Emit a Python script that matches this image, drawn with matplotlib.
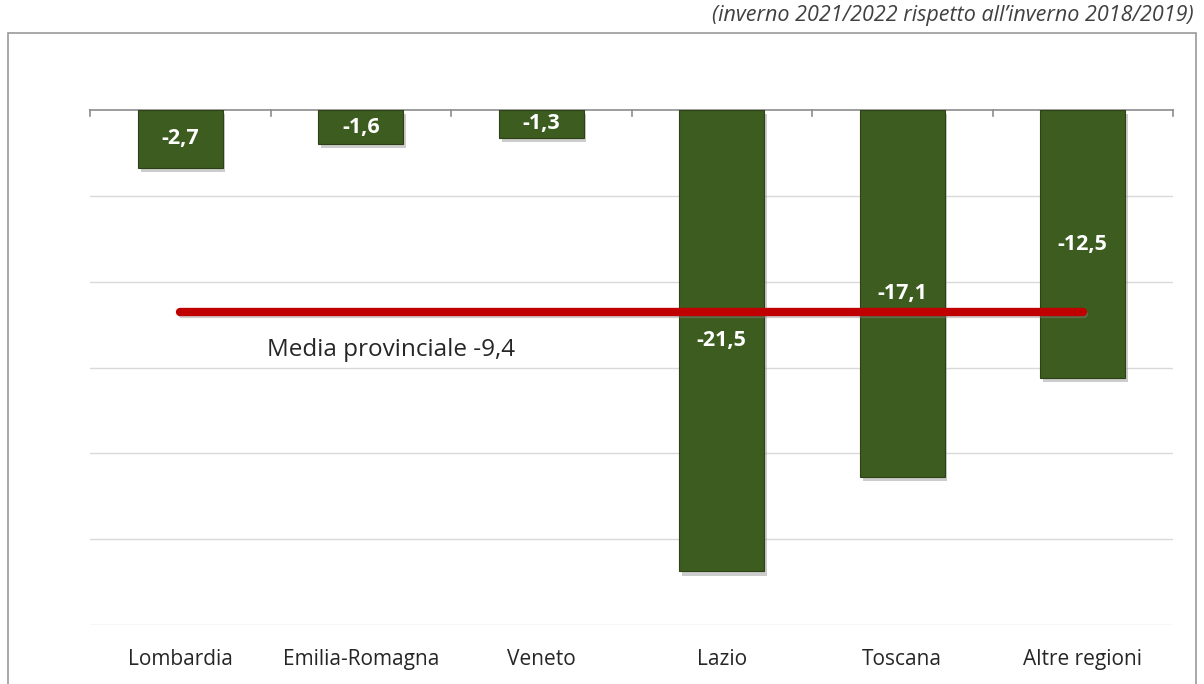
import matplotlib

matplotlib.use("Agg")
import matplotlib.patheffects as pe
import matplotlib.pyplot as plt
import numpy as np
from matplotlib.patches import Rectangle

regions = ["Lombardia", "Emilia-Romagna", "Veneto", "Lazio", "Toscana", "Altre regioni"]
changes = [-2.7, -1.6, -1.3, -21.5, -17.1, -12.5]
provincial_mean = -9.4
grid_levels = [-4, -8, -12, -16, -20, -24]
subtitle = "(inverno 2021/2022 rispetto all\u2019inverno 2018/2019)"

plt.rcParams["font.family"] = ["Open Sans", "DejaVu Sans"]

bar_color = "#3d5c1f"
line_color = "#c00000"

fig = plt.figure(figsize=(12.04, 6.84), dpi=100)
ax = fig.add_axes([90 / 1204, 1 - 625 / 684, 1083 / 1204, 515 / 684])

x = np.arange(len(regions))
shadow = [pe.SimplePatchShadow(offset=(2, -3), shadow_rgbFace="#9a9a9a", alpha=0.5), pe.Normal()]
bars = ax.bar(x, changes, width=0.47, color=bar_color, edgecolor="#2c4216", linewidth=0.8, zorder=3)
for b in bars:
    b.set_path_effects(shadow)

for xi, val in zip(x, changes):
    label = f"{val:.1f}".replace(".", ",")
    ax.text(xi, val / 2, label, ha="center", va="center", color="white",
            fontsize=15.5, fontweight="bold", zorder=5)

ax.plot([x[0], x[-1]], [provincial_mean, provincial_mean], color=line_color, lw=6,
        solid_capstyle="round", zorder=4,
        path_effects=[pe.SimpleLineShadow(offset=(1, -2), shadow_color="#888888", alpha=0.4), pe.Normal()])
ax.text(1.17, -11.2, "Media provinciale -9,4", ha="center", va="center", fontsize=17.5,
        color="#262626", zorder=5)

for g in grid_levels:
    ax.axhline(g, color="#d9d9d9", lw=1, zorder=1)

ax.set_xlim(-0.5, len(regions) - 0.5)
ax.set_ylim(-24, 0)
ax.set_yticks([])
ax.set_xticks(x)
ax.set_xticklabels(regions, fontsize=15, color="#262626")
ax.tick_params(axis="x", length=0, pad=17)
for side in ["left", "right", "bottom"]:
    ax.spines[side].set_visible(False)
ax.spines["top"].set_color("#8c8c8c")
ax.spines["top"].set_linewidth(1.2)
ax.spines["top"].set_zorder(2)

# small tick marks at category boundaries hanging from the zero line
for bx in np.arange(-0.5, len(regions), 1.0):
    ax.plot([bx, bx], [0, -0.3], color="#8c8c8c", lw=1.2, zorder=2, clip_on=False)

fig.add_artist(Rectangle((8 / 1204, -0.05), 1188 / 1204, 0.05 + 1 - 33 / 684,
                         transform=fig.transFigure, fill=False, edgecolor="#9a9a9a", lw=1.2))
fig.text(1194 / 1204, 1 - 15 / 684, subtitle, ha="right", va="center", fontsize=15.5,
         style="italic", color="#404040")

fig.savefig("out.png", dpi=100, facecolor="white")
